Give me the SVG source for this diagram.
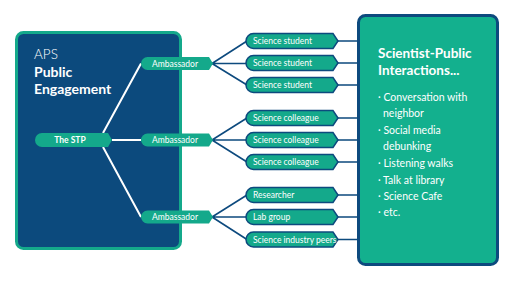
<svg xmlns="http://www.w3.org/2000/svg" width="512" height="283" viewBox="0 0 512 283">
<style>
.node{fill:#14a98b;stroke:#0d4a7e;stroke-width:1.5}
.amb{fill:#14a98b}
.wl{stroke:#ffffff;stroke-width:2;fill:none}
.bl{stroke:#0d4a7e;stroke-width:1.6;fill:none}
.t{font-family:Lato,"Liberation Sans",sans-serif;fill:#ffffff}
.nt{font-size:8.5px}
.bt{font-size:10.5px}
</style>
<rect width="512" height="283" fill="#ffffff"/>
<g id="left-panel">
<rect x="16.5" y="32.5" width="164" height="216" rx="7" fill="#0c4a7d" stroke="#14a98b" stroke-width="3"/>
<text class="t" x="34" y="59" font-size="13.5" font-weight="300">APS</text>
<text class="t" x="34" y="77" font-size="14" font-weight="bold">Public</text>
<text class="t" x="34" y="94" font-size="14" font-weight="bold">Engagement</text>
</g>
<g id="right-panel">
<rect x="358.5" y="15.5" width="139" height="249" rx="7" fill="#13b08e" stroke="#0d4a7e" stroke-width="3"/>
<text class="t" x="378" y="58" font-size="13.5" font-weight="bold">Scientist-Public</text>
<text class="t" x="378" y="75" font-size="13.5" font-weight="bold">Interactions...</text>
<g class="t bt">
<text x="378" y="101">· Conversation with</text>
<text x="383" y="117">neighbor</text>
<text x="378" y="134">· Social media</text>
<text x="383" y="150">debunking</text>
<text x="378" y="167">· Listening walks</text>
<text x="378" y="184">· Talk at library</text>
<text x="378" y="200">· Science Cafe</text>
<text x="378" y="216">· etc.</text>
</g>
</g>
<g id="connectors">
<path class="wl" d="M103 133 L141 63.5 M112 140 H141 M103 147 L141 217"/>
<path class="bl" d="M212 63.5 L247 41 M213 63.5 H247 M212 63.5 L247 85 M212 140 L247 118 M213 140 H247 M212 140 L247 162 M212 217 L247 195 M213 217 H247 M212 217 L247 239.5"/>
<path class="bl" d="M338 41 H358 M338 63 H358 M338 85 H358 M338 118 H358 M338 140 H358 M338 162 H358 M338 195 H358 M338 217 H358 M338 239.5 H358"/>
</g>
<g id="stp">
<path class="amb" d="M42 133 H108 L112 140 L108 147 H42 A7 7 0 0 1 42 133 Z"/>
<text class="t nt" x="70" y="143" text-anchor="middle" font-weight="bold">The STP</text>
</g>
<g id="amb1">
<path class="amb" d="M147.5 57 H209 L213 63.5 L209 70 H147.5 A6.5 6.5 0 0 1 147.5 57 Z"/>
<text class="t nt" x="175" y="66.5" text-anchor="middle">Ambassador</text>
</g>
<g id="amb2">
<path class="amb" d="M147.5 133.5 H209 L213 140 L209 146.5 H147.5 A6.5 6.5 0 0 1 147.5 133.5 Z"/>
<text class="t nt" x="175" y="143" text-anchor="middle">Ambassador</text>
</g>
<g id="amb3">
<path class="amb" d="M147.5 210.5 H209 L213 217 L209 223.5 H147.5 A6.5 6.5 0 0 1 147.5 210.5 Z"/>
<text class="t nt" x="175" y="220" text-anchor="middle">Ambassador</text>
</g>
<g id="s1"><path class="node" d="M253.5 33.5 H333 L338 41 L333 48.5 H253.5 A7.5 7.5 0 0 1 253.5 33.5 Z"/><text class="t nt" x="253" y="44">Science student</text></g>
<g id="s2"><path class="node" d="M253.5 55.5 H333 L338 63 L333 70.5 H253.5 A7.5 7.5 0 0 1 253.5 55.5 Z"/><text class="t nt" x="253" y="66">Science student</text></g>
<g id="s3"><path class="node" d="M253.5 77.5 H333 L338 85 L333 92.5 H253.5 A7.5 7.5 0 0 1 253.5 77.5 Z"/><text class="t nt" x="253" y="88">Science student</text></g>
<g id="c1"><path class="node" d="M253.5 110.5 H333 L338 118 L333 125.5 H253.5 A7.5 7.5 0 0 1 253.5 110.5 Z"/><text class="t nt" x="253" y="121">Science colleague</text></g>
<g id="c2"><path class="node" d="M253.5 132.5 H333 L338 140 L333 147.5 H253.5 A7.5 7.5 0 0 1 253.5 132.5 Z"/><text class="t nt" x="253" y="143">Science colleague</text></g>
<g id="c3"><path class="node" d="M253.5 154.5 H333 L338 162 L333 169.5 H253.5 A7.5 7.5 0 0 1 253.5 154.5 Z"/><text class="t nt" x="253" y="165">Science colleague</text></g>
<g id="r1"><path class="node" d="M253.5 187.5 H333 L338 195 L333 202.5 H253.5 A7.5 7.5 0 0 1 253.5 187.5 Z"/><text class="t nt" x="253" y="198">Researcher</text></g>
<g id="r2"><path class="node" d="M253.5 209.5 H333 L338 217 L333 224.5 H253.5 A7.5 7.5 0 0 1 253.5 209.5 Z"/><text class="t nt" x="253" y="220">Lab group</text></g>
<g id="r3"><path class="node" d="M253.5 232 H333 L338 239.5 L333 247 H253.5 A7.5 7.5 0 0 1 253.5 232 Z"/><text class="t nt" x="253" y="242.5">Science industry peers</text></g>
</svg>
